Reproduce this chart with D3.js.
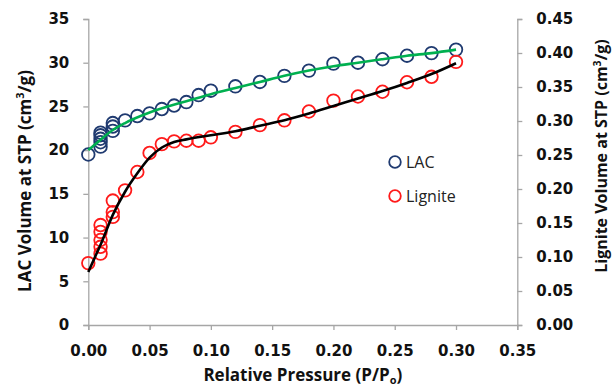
<!DOCTYPE html>
<html><head><meta charset="utf-8">
<script src="https://cdn.jsdelivr.net/npm/d3@7"></script>
<style>body{margin:0;background:#fff}svg{display:block}</style>
</head><body>
<svg id="c" width="615" height="389"></svg>
<script>
// LAC data (left axis)
const lacP = [0, 0.01,0.01,0.01,0.01,0.01, 0.02,0.02,0.02, 0.03,0.04,0.05,0.06,0.07,0.08,0.09,0.10,0.12,0.14,0.16,0.18,0.20,0.22,0.24,0.26,0.28,0.30];
const lacV = [19.5, 20.4,20.9,21.3,21.7,22.0, 22.2,22.7,23.1, 23.4,23.9,24.2,24.7,25.1,25.5,26.3,26.8,27.3,27.8,28.5,29.1,29.9,30.0,30.4,30.8,31.1,31.5];
// LAC fit (green)
const lacFitP = [0,0.01,0.02,0.03,0.05,0.08,0.10,0.12,0.14,0.16,0.18,0.20,0.22,0.24,0.26,0.28,0.30];
const lacFitV = [20.0,21.2,22.3,23.1,24.3,25.6,26.4,27.1,27.8,28.5,29.1,29.6,30.0,30.4,30.8,31.1,31.5];
// Lignite data (right axis)
const ligP = [0, 0.01,0.01,0.01,0.01,0.01, 0.02,0.02,0.02, 0.03,0.04,0.05,0.06,0.07,0.08,0.09,0.10,0.12,0.14,0.16,0.18,0.20,0.22,0.24,0.26,0.28,0.30];
const ligV = [0.091, 0.105,0.115,0.125,0.137,0.147, 0.159,0.166,0.183, 0.198,0.225,0.253,0.266,0.270,0.271,0.271,0.276,0.284,0.294,0.301,0.314,0.330,0.336,0.343,0.357,0.365,0.387];
// Lignite fit (black)
const ligFitP = [0,0.005,0.01,0.02,0.03,0.04,0.05,0.06,0.07,0.08,0.10,0.12,0.14,0.16,0.18,0.20,0.22,0.24,0.26,0.28,0.30];
const ligFitV = [0.078,0.098,0.118,0.162,0.196,0.223,0.246,0.261,0.269,0.273,0.279,0.285,0.293,0.301,0.311,0.322,0.333,0.344,0.356,0.369,0.385];
// ticks
const xTicks = [0,0.05,0.10,0.15,0.20,0.25,0.30,0.35];
const yLTicks = [0,5,10,15,20,25,30,35];
const yRTicks = [0,0.05,0.10,0.15,0.20,0.25,0.30,0.35,0.40,0.45];

const svg = d3.select("#c");
const L = 88.3, R = 517.3, T = 19, B = 325;
const x = d3.scaleLinear().domain([0,0.35]).range([L,R]);
const yL = d3.scaleLinear().domain([0,35]).range([B,T]);
const yR = d3.scaleLinear().domain([0,0.45]).range([B,T]);
const axisCol = "#a6a6a6";
const tickFont = "bold 15px 'DejaVu Sans', sans-serif";

function styleAxis(g){
  g.select(".domain").attr("stroke",axisCol).attr("stroke-width",1.3);
  g.selectAll(".tick line").attr("stroke",axisCol).attr("stroke-width",1.3);
  g.selectAll(".tick text").style("font",tickFont).attr("fill","#111");
}
const gx = svg.append("g").attr("transform",`translate(0,${B})`)
  .call(d3.axisBottom(x).tickValues(xTicks).tickFormat(d3.format(".2f")).tickSizeOuter(0).tickSize(5).tickPadding(15));
styleAxis(gx);
const gl = svg.append("g").attr("transform",`translate(${L},0)`)
  .call(d3.axisLeft(yL).tickValues(yLTicks).tickFormat(d3.format("d")).tickSizeOuter(0).tickSize(5).tickPadding(14));
styleAxis(gl);
const gr = svg.append("g").attr("transform",`translate(${R},0)`)
  .call(d3.axisRight(yR).tickValues(yRTicks).tickFormat(d3.format(".2f")).tickSizeOuter(0).tickSize(5).tickPadding(14));
styleAxis(gr);

const lineL = d3.line().x(d=>x(d[0])).y(d=>yL(d[1])).curve(d3.curveMonotoneX);
const lineR = d3.line().x(d=>x(d[0])).y(d=>yR(d[1])).curve(d3.curveMonotoneX);

svg.append("g").selectAll("circle").data(lacP.map((p,i)=>[p,lacV[i]])).join("circle")
  .attr("cx",d=>x(d[0])).attr("cy",d=>yL(d[1])).attr("r",6.3)
  .attr("fill","none").attr("stroke","#1f3a70").attr("stroke-width",1.8);
svg.append("g").selectAll("circle").data(ligP.map((p,i)=>[p,ligV[i]])).join("circle")
  .attr("cx",d=>x(d[0])).attr("cy",d=>yR(d[1])).attr("r",6.3)
  .attr("fill","none").attr("stroke","#ff1a1a").attr("stroke-width",1.8);

svg.append("path").datum(lacFitP.map((p,i)=>[p,lacFitV[i]])).attr("d",lineL)
  .attr("fill","none").attr("stroke","#00b050").attr("stroke-width",2.6);
svg.append("path").datum(ligFitP.map((p,i)=>[p,ligFitV[i]])).attr("d",lineR)
  .attr("fill","none").attr("stroke","#000").attr("stroke-width",2.6);

// legend
const leg = [["LAC","#1f3a70",162],["Lignite","#ff1a1a",196]];
leg.forEach(([t,c,yy])=>{
  svg.append("circle").attr("cx",395).attr("cy",yy).attr("r",5.8).attr("fill","none").attr("stroke",c).attr("stroke-width",1.8);
  svg.append("text").attr("x",406).attr("y",yy+5.5).text(t).style("font","16px 'Open Sans', sans-serif").attr("fill","#222");
});

// axis titles
const tl = svg.append("text").attr("transform","translate(31,181) rotate(-90)").attr("text-anchor","middle")
  .style("font","bold 17px 'Open Sans', sans-serif").attr("fill","#111");
tl.append("tspan").text("LAC Volume at STP (cm");
tl.append("tspan").text("3").attr("dy",-7).style("font-size","11px");
tl.append("tspan").text("/g)").attr("dy",7);
const tr = svg.append("text").attr("transform","translate(607,156) rotate(-90)").attr("text-anchor","middle")
  .style("font","bold 16px 'Open Sans', sans-serif").attr("fill","#111");
tr.append("tspan").text("Lignite Volume at STP (cm");
tr.append("tspan").text("3").attr("dy",-6).style("font-size","10.5px");
tr.append("tspan").text("/g)").attr("dy",6);
const tx = svg.append("text").attr("x",(L+R)/2).attr("y",381).attr("text-anchor","middle")
  .style("font","bold 17px 'Open Sans', sans-serif").attr("fill","#111");
tx.append("tspan").text("Relative Pressure (P/P");
tx.append("tspan").text("o").attr("dy",3).style("font-size","11px");
tx.append("tspan").text(")").attr("dy",-3);
</script>
</body></html>
